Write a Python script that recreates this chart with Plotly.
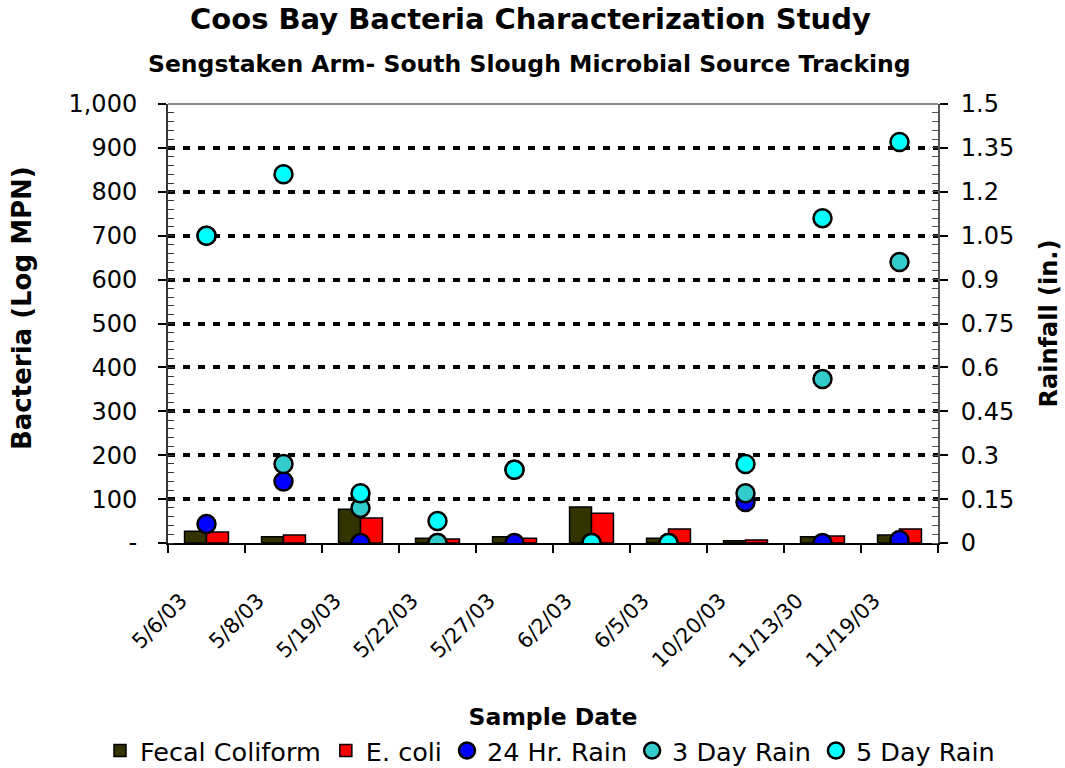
import plotly.graph_objects as go

dates = ["5/6/03", "5/8/03", "5/19/03", "5/22/03", "5/27/03", "6/2/03",
         "6/5/03", "10/20/03", "11/13/30", "11/19/03"]
fecal = [27, 14, 77, 11, 14, 82, 11, 5, 14, 18]
ecoli = [25, 18, 57, 9, 11, 68, 32, 7, 16, 32]
rain24 = [0.065, 0.21, 0, 0, 0, 0, 0, 0.14, 0, 0.01]
rain3 = [1.05, 0.27, 0.12, 0, 0.25, 0, 0, 0.17, 0.56, 0.96]
rain5 = [1.05, 1.26, 0.17, 0.075, 0.25, 0, 0, 0.27, 1.11, 1.37]

left_ticks = [0, 100, 200, 300, 400, 500, 600, 700, 800, 900, 1000]
left_text = ["-", "100", "200", "300", "400", "500", "600", "700", "800", "900", "1,000"]
right_ticks = [0, 0.15, 0.3, 0.45, 0.6, 0.75, 0.9, 1.05, 1.2, 1.35, 1.5]
right_text = ["0", "0.15", "0.3", "0.45", "0.6", "0.75", "0.9", "1.05", "1.2", "1.35", "1.5"]

FONT = "DejaVu Sans"
xpos = list(range(len(dates)))          # category slots
LABEL_OFFSET = 0.33                      # rotated labels sit left of the slot centre
label_pos = [p - LABEL_OFFSET for p in xpos]

fig = go.Figure()
fig.add_trace(go.Bar(x=xpos, y=fecal, name="Fecal Coliform", customdata=dates,
                     marker=dict(color="#333300", line=dict(color="black", width=1.5))))
fig.add_trace(go.Bar(x=xpos, y=ecoli, name="E. coli", customdata=dates,
                     marker=dict(color="#FF0000", line=dict(color="black", width=1.5))))
for vals, nm, col in [(rain24, "24 Hr. Rain", "#0000FF"),
                      (rain3, "3 Day Rain", "#33CCCC"),
                      (rain5, "5 Day Rain", "#00FFFF")]:
    fig.add_trace(go.Scatter(x=xpos, y=vals, name=nm, mode="markers", yaxis="y2",
                             customdata=dates,
                             marker=dict(color=col, size=18, line=dict(color="black", width=2.5))))

fig.update_layout(
    width=1065, height=768,
    margin=dict(l=168, r=127, t=104, b=225, autoexpand=False),
    paper_bgcolor="white", plot_bgcolor="white",
    font=dict(family=FONT, color="black", size=24),
    barmode="group", bargap=0.43, bargroupgap=0,
    showlegend=True,
    legend=dict(orientation="h", xref="paper", yref="paper",
                x=(100 - 168) / 770, xanchor="left", y=-(751 - 543) / 439, yanchor="middle",
                font=dict(family=FONT, size=25.5), itemwidth=30,
                traceorder="normal", tracegroupgap=0),
    xaxis=dict(range=[-0.5, len(dates) - 0.5], automargin=False,
               tickvals=label_pos, ticktext=dates, ticks="",
               showline=True, linecolor="black", linewidth=2, showgrid=False,
               zeroline=False, tickangle=-45,
               tickfont=dict(family=FONT, size=21), ticklabelstandoff=35,
               minor=dict(tick0=-0.5, dtick=1, ticks="outside", ticklen=8,
                          tickcolor="black", tickwidth=1.5, showgrid=False),
               title=dict(text="<b>Sample Date</b>", font=dict(family=FONT, size=23.5), standoff=37)),
    yaxis=dict(range=[0, 1000], tickvals=left_ticks, ticktext=left_text, automargin=False,
               ticks="outside", ticklen=8, tickcolor="black", tickwidth=1.5,
               showline=True, linecolor="#333333", linewidth=2,
               showgrid=True, gridcolor="black", gridwidth=3.5, griddash="7px,8px",
               zeroline=False, tickfont=dict(family=FONT, size=24), ticklabelstandoff=16,
               minor=dict(dtick=20, ticks="inside", ticklen=6, tickcolor="#333333",
                          tickwidth=1, showgrid=False)),
    yaxis2=dict(range=[0, 1.5], tickvals=right_ticks, ticktext=right_text, automargin=False,
                overlaying="y", side="right",
                ticks="outside", ticklen=8, tickcolor="black", tickwidth=1.5,
                showline=True, linecolor="#555555", linewidth=2, showgrid=False,
                zeroline=False, tickfont=dict(family=FONT, size=24), ticklabelstandoff=8,
                minor=dict(dtick=0.03, ticks="inside", ticklen=6, tickcolor="#555555",
                           tickwidth=1, showgrid=False),
                title=dict(text="<b>Rainfall (in.)</b>", font=dict(family=FONT, size=24), standoff=27)),
)

fig.add_shape(type="line", xref="paper", yref="paper", x0=0, x1=1, y0=1, y1=1,
              line=dict(color="#888888", width=2))

fig.add_annotation(text="<b>Bacteria (Log MPN)</b>", textangle=-90,
                   xref="paper", yref="paper", x=(22 - 168) / 770, y=(543 - 308) / 439,
                   xanchor="center", yanchor="middle", showarrow=False,
                   font=dict(family=FONT, size=26))
fig.add_annotation(text="<b>Coos Bay Bacteria Characterization Study</b>",
                   xref="paper", yref="paper", x=(530 - 168) / 770, y=1 + (104 - 19) / 439,
                   xanchor="center", yanchor="middle", showarrow=False,
                   font=dict(family=FONT, size=29))
fig.add_annotation(text="<b>Sengstaken Arm- South Slough Microbial Source Tracking</b>",
                   xref="paper", yref="paper", x=(529 - 168) / 770, y=1 + (104 - 64) / 439,
                   xanchor="center", yanchor="middle", showarrow=False,
                   font=dict(family=FONT, size=23.5))

fig.write_html("out.html", config={"displayModeBar": False},
               post_script="document.body.style.margin='0';document.body.style.overflow='hidden';")
